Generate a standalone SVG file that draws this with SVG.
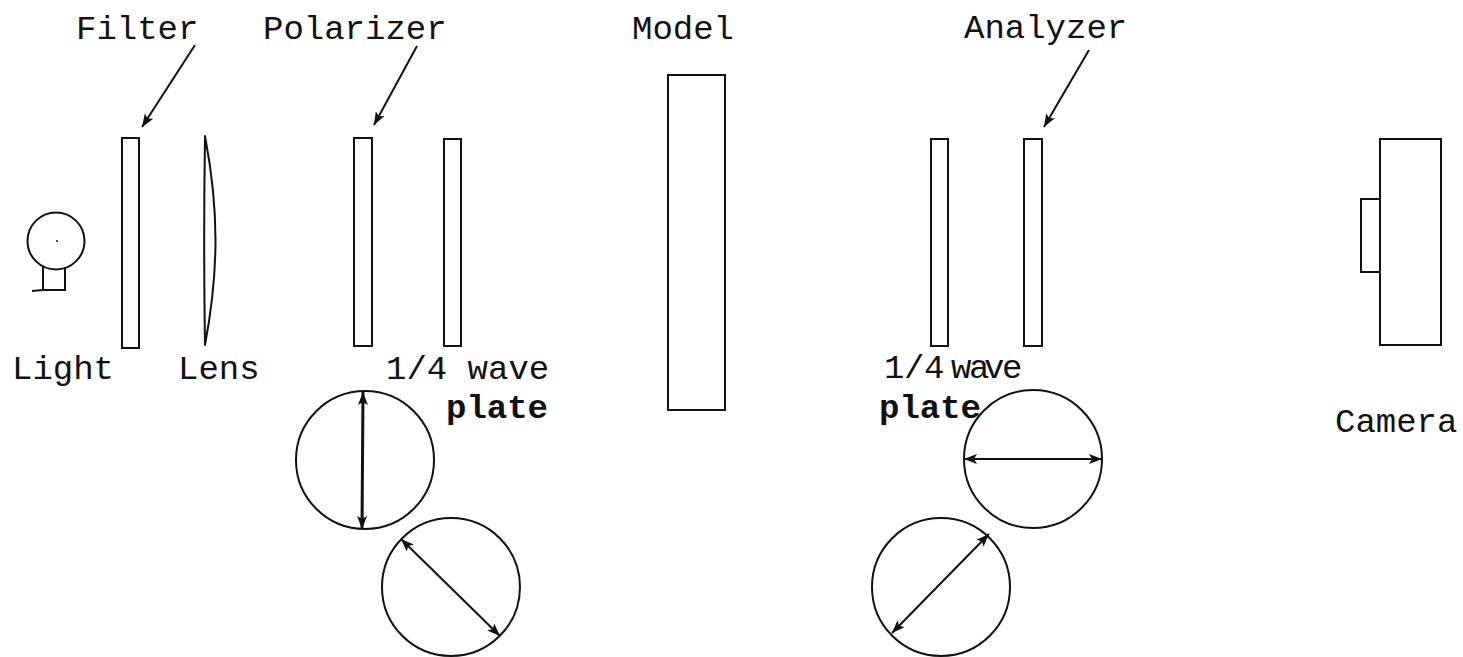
<svg xmlns="http://www.w3.org/2000/svg" width="1463" height="657" viewBox="0 0 1463 657">
<style>
.s{fill:none;stroke:#111;stroke-width:2}
.a{fill:none;stroke:#111;stroke-width:2;marker-start:url(#h);marker-end:url(#h)}
.p{fill:none;stroke:#111;stroke-width:2;marker-end:url(#h)}
.t{stroke-width:3}
text{font-family:"Liberation Mono",monospace;font-size:34px;fill:#111}
</style>
<defs><marker id="h" markerUnits="userSpaceOnUse" markerWidth="14" markerHeight="10" refX="13" refY="5" orient="auto-start-reverse"><path d="M0 0L13 5L0 10L3 5Z" fill="#111"/></marker></defs>
<rect width="1463" height="657" fill="#fff"/>
<g id="light"><circle class="s" cx="56" cy="241" r="28.5"/><circle cx="57" cy="241" r="1" fill="#111"/><path class="s" d="M43 267V290H65V267M32 291L43 290"/><text x="12" y="379">Light</text></g>
<g id="filter"><rect class="s" x="122" y="138" width="17" height="210"/><text x="76" y="39">Filter</text></g>
<g id="lens"><path class="s" stroke-linejoin="round" d="M205 136C219 210 219 270 205 345C204 280 204 200 205 136Z"/><text x="178" y="379">Lens</text></g>
<g id="polarizer"><rect class="s" x="354" y="138" width="18" height="208"/><text x="263" y="39">Polarizer</text></g>
<g id="quarter1"><rect class="s" x="444" y="139" width="17" height="207"/><text x="386" y="379">1/4 wave</text><text x="446" y="418" font-weight="bold" textLength="102">plate</text></g>
<g id="model"><rect class="s" x="668" y="75" width="57" height="335"/><text x="632" y="39">Model</text></g>
<g id="quarter2"><rect class="s" x="931" y="139" width="17" height="207"/><text x="884 904 924 944 951 969 984 1002" y="378">1/4 wave</text><text x="879" y="418" font-weight="bold" textLength="102">plate</text></g>
<g id="analyzer"><rect class="s" x="1024" y="139" width="18" height="207"/><text x="964" y="38">Analyzer</text></g>
<g id="camera"><rect class="s" x="1380" y="139" width="61" height="206"/><rect class="s" x="1361" y="199" width="19" height="73"/><text x="1335" y="432">Camera</text></g>
<g id="disc-polarizer"><circle class="s" cx="365" cy="460" r="69"/></g>
<g id="disc-quarter1"><circle class="s" cx="451" cy="587" r="69"/></g>
<g id="disc-analyzer"><circle class="s" cx="1033" cy="459" r="69"/></g>
<g id="disc-quarter2"><circle class="s" cx="941" cy="587" r="69"/></g>
<g id="connectors">
<path class="p" d="M195 45L142 127"/>
<path class="p" d="M417 46L374 125"/>
<path class="p" d="M1089 50L1044 127"/>
<path class="a t" d="M363 392L362 529"/>
<path class="a" d="M401 539L500 636"/>
<path class="a" d="M964 459H1102"/>
<path class="a" d="M989 534L892 633"/>
</g>
</svg>
